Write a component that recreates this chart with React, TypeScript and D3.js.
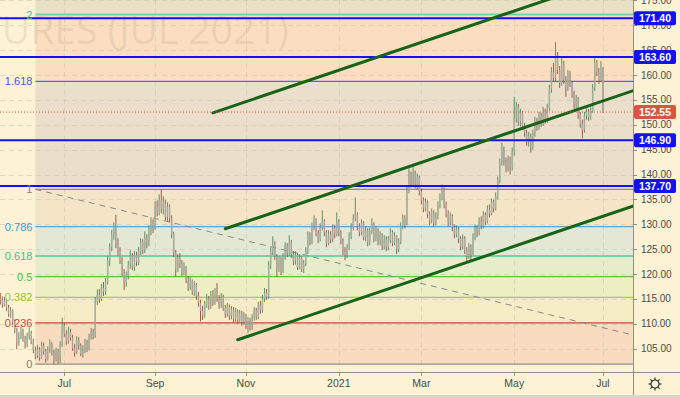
import * as d3 from 'd3'

// each session: [high, low, close]; open is taken as the previous close
type Bar = [number, number, number]

const firstDay = '2020-05-19'
const firstOpen = 115.0

const may2020: Bar[] = [
  [116.2, 113.9, 114.8], [115.5, 113.2, 113.9], [115.4, 113.5, 114.6], [115.0, 112.6, 113.2], [113.8, 111.4, 112.0],
  [113.4, 111.2, 112.6], [112.9, 109.8, 110.4], [110.9, 108.1, 108.8], [109.2, 104.9, 106.2],
]
const jun2020: Bar[] = [
  [108.3, 105.6, 107.5], [109.4, 106.9, 108.6], [109.0, 106.4, 107.0], [107.6, 105.0, 105.8], [108.2, 105.3, 107.4],
  [109.3, 106.8, 108.2], [108.6, 105.9, 106.5], [107.0, 104.1, 104.8], [105.4, 102.9, 103.6], [105.8, 103.1, 104.9],
  [105.3, 102.6, 103.2], [106.4, 102.9, 105.6], [106.2, 103.8, 104.4], [104.9, 102.2, 103.0], [105.5, 102.6, 104.8],
  [106.9, 104.2, 106.0], [106.3, 103.6, 104.2], [104.8, 101.9, 102.9], [105.2, 102.4, 104.5], [105.0, 102.0, 103.4],
  [106.5, 102.1, 105.8], [111.2, 105.4, 109.6],
]
const jul2020: Bar[] = [
  [110.2, 107.4, 108.0], [108.7, 105.8, 106.5], [109.4, 106.0, 108.3], [109.0, 106.6, 107.2], [107.8, 104.6, 105.1],
  [105.9, 103.4, 104.2], [107.5, 103.9, 106.8], [107.3, 104.8, 105.5], [106.1, 103.5, 104.0], [105.7, 103.2, 104.6],
  [107.0, 104.1, 106.2], [106.8, 104.3, 105.0], [108.0, 104.6, 107.3], [109.2, 106.8, 108.4], [109.0, 106.9, 107.6],
  [115.4, 107.2, 114.6], [116.9, 113.8, 115.8], [117.0, 114.2, 115.0], [118.0, 114.6, 117.2], [118.4, 115.6, 116.4],
  [119.2, 115.8, 118.3], [123.6, 117.9, 122.8], [126.2, 121.6, 125.4],
]
const aug2020: Bar[] = [
  [128.9, 124.6, 127.8], [130.4, 126.9, 129.6], [131.9, 125.2, 126.0], [127.2, 123.6, 124.5], [125.4, 122.0, 122.8],
  [123.4, 119.6, 120.2], [121.0, 116.8, 118.4], [120.5, 117.4, 119.6], [122.6, 118.9, 121.8], [124.8, 121.0, 123.7],
  [124.2, 120.8, 121.5], [124.6, 120.6, 123.8], [124.5, 121.6, 122.4], [125.4, 121.8, 124.6], [127.2, 123.8, 126.4],
  [127.0, 124.0, 124.8], [128.6, 124.2, 127.2], [128.0, 125.2, 126.0], [129.8, 125.6, 128.6], [131.4, 127.8, 130.2],
  [131.0, 128.2, 129.4],
]
const sep2020: Bar[] = [
  [134.6, 128.9, 133.6], [134.8, 131.6, 132.4], [136.0, 131.8, 134.8], [137.0, 132.2, 133.0], [135.6, 132.0, 134.2],
  [134.9, 130.8, 131.5], [134.4, 130.6, 133.6], [134.0, 130.4, 131.2], [131.8, 127.2, 128.0], [128.5, 123.4, 124.2],
  [124.8, 119.5, 121.0], [124.0, 120.4, 123.2], [124.2, 121.2, 122.0], [122.8, 119.6, 120.4], [122.4, 119.8, 121.2],
  [121.6, 118.2, 119.0], [119.6, 116.6, 117.4], [119.4, 116.8, 118.6], [118.9, 115.8, 116.5], [118.6, 115.6, 117.8],
  [118.2, 114.8, 115.6], [116.4, 113.4, 114.2],
]
const oct2020: Bar[] = [
  [114.8, 110.5, 112.6], [113.6, 110.8, 111.8], [114.6, 111.2, 113.9], [116.0, 113.2, 115.0], [115.6, 112.8, 113.6],
  [116.6, 113.0, 115.8], [116.8, 113.6, 114.4], [117.2, 113.8, 116.2], [118.2, 114.4, 115.0], [115.8, 113.0, 113.8],
  [116.2, 113.2, 115.4], [115.9, 112.6, 113.2], [113.8, 111.2, 112.0], [114.2, 111.4, 113.4], [113.9, 110.8, 111.6],
  [113.6, 110.9, 112.8], [113.4, 110.2, 111.0], [113.2, 110.4, 112.4], [112.9, 110.0, 110.8], [112.8, 110.2, 112.0],
  [112.6, 109.6, 110.4], [112.4, 109.8, 111.6],
]
const nov2020: Bar[] = [
  [112.0, 109.0, 109.8], [111.4, 108.2, 110.6], [111.2, 108.6, 109.4], [112.0, 108.8, 111.2], [113.4, 110.6, 112.6],
  [113.2, 110.8, 111.4], [114.4, 110.9, 113.6], [114.6, 112.0, 112.8], [115.8, 112.2, 115.0], [117.2, 114.4, 116.2],
  [117.0, 114.8, 115.4], [122.6, 115.0, 121.8], [125.4, 121.0, 124.6], [127.6, 123.8, 126.0], [126.6, 122.8, 123.6],
  [124.0, 119.4, 121.2], [123.6, 120.4, 122.8], [123.4, 119.8, 120.6], [124.2, 120.2, 123.4], [126.4, 122.8, 125.6],
  [126.2, 123.4, 124.2],
]
const dec2020: Bar[] = [
  [127.8, 123.6, 126.4], [126.8, 123.2, 124.0], [124.6, 121.8, 122.6], [124.6, 121.9, 123.8], [124.2, 120.8, 121.4],
  [124.0, 120.9, 123.2], [123.6, 120.4, 121.0], [122.8, 120.2, 122.0], [125.4, 121.6, 124.6], [128.6, 124.0, 127.8],
  [128.4, 125.8, 126.4], [130.4, 126.0, 129.6], [131.8, 128.8, 130.8], [131.2, 127.6, 128.2], [128.8, 126.2, 127.0],
  [130.2, 126.6, 129.4], [132.8, 128.8, 130.6], [131.0, 127.6, 128.4], [128.8, 125.4, 126.2], [128.8, 125.8, 128.0],
  [128.6, 126.2, 127.0], [130.0, 126.4, 129.2], [129.8, 127.2, 128.0],
]
const jan2021: Bar[] = [
  [132.4, 127.6, 130.6], [131.0, 127.6, 128.4], [128.8, 126.0, 126.8], [127.2, 123.8, 124.6], [125.4, 122.8, 123.8],
  [126.0, 123.2, 125.2], [128.4, 124.8, 127.6], [130.2, 127.0, 129.4], [132.0, 128.8, 131.2], [135.4, 130.6, 132.0],
  [132.4, 128.8, 129.6], [130.2, 127.6, 128.4], [131.0, 127.8, 130.2], [130.6, 126.8, 127.4], [129.6, 126.6, 128.8],
  [129.2, 125.6, 126.4], [129.4, 125.8, 128.6], [131.2, 128.0, 130.0], [130.4, 126.4, 127.2], [129.6, 126.6, 128.8],
  [129.2, 125.8, 126.6],
]
const feb2021: Bar[] = [
  [128.6, 125.8, 127.8], [128.2, 124.8, 125.6], [127.8, 124.9, 127.0], [127.6, 124.6, 125.4], [127.6, 124.8, 126.8],
  [129.2, 126.2, 128.4], [128.8, 125.6, 126.2], [128.4, 125.8, 127.6], [127.8, 124.0, 125.0], [127.2, 124.4, 126.4],
  [130.4, 126.0, 129.6], [132.0, 129.0, 131.2], [131.8, 129.2, 130.0], [137.6, 129.8, 136.8], [141.5, 136.2, 139.8],
  [140.6, 137.4, 138.2], [141.6, 137.6, 140.2], [140.8, 137.2, 138.0], [140.2, 137.0, 139.4], [139.8, 135.8, 136.6],
]
const mar2021: Bar[] = [
  [137.2, 134.0, 134.8], [135.4, 132.4, 133.2], [135.2, 132.6, 134.4], [134.8, 131.2, 132.0], [132.6, 129.8, 130.8],
  [133.2, 130.2, 132.4], [132.8, 129.6, 130.2], [132.4, 129.8, 131.6], [134.6, 131.0, 133.8], [136.2, 133.2, 135.4],
  [138.0, 134.8, 137.0], [137.4, 133.2, 134.0], [134.6, 131.4, 132.2], [132.8, 129.6, 130.4], [132.4, 129.8, 131.6],
  [132.0, 128.6, 129.4], [130.0, 127.2, 128.0], [129.8, 127.4, 129.0], [129.4, 126.2, 127.0], [127.6, 124.8, 125.6],
  [128.0, 125.0, 127.2], [127.6, 124.0, 124.8], [125.4, 122.6, 123.6],
]
const apr2021: Bar[] = [
  [126.2, 123.0, 125.4], [126.0, 122.8, 124.2], [128.2, 123.8, 127.4], [130.0, 126.8, 129.0], [129.8, 127.4, 128.2],
  [131.4, 127.8, 130.6], [131.6, 129.0, 129.8], [132.6, 129.2, 131.8], [132.4, 129.8, 130.6], [133.8, 130.2, 133.0],
  [134.0, 131.4, 132.2], [135.2, 131.8, 134.4], [135.0, 132.4, 133.2], [136.4, 132.8, 135.6], [139.6, 135.0, 138.8],
  [143.2, 138.2, 142.4], [146.4, 141.8, 144.8], [145.6, 141.8, 142.6], [143.4, 140.4, 141.2], [143.8, 140.6, 143.0],
  [143.6, 140.0, 141.4], [145.4, 140.8, 144.6],
]
const may2021: Bar[] = [
  [155.6, 143.8, 151.4], [154.6, 150.4, 153.6], [154.2, 149.8, 150.6], [153.2, 149.6, 152.4], [152.8, 149.0, 149.8],
  [150.4, 147.6, 148.4], [149.0, 145.8, 146.6], [148.6, 145.6, 147.8], [148.2, 144.4, 145.6], [149.0, 145.0, 148.2],
  [151.6, 147.6, 150.8], [151.4, 148.8, 149.6], [152.6, 149.0, 151.8], [152.4, 149.6, 150.4], [153.6, 149.8, 152.6],
  [153.2, 150.2, 151.0], [154.2, 150.4, 153.4], [158.0, 152.8, 157.2], [161.6, 156.4, 160.6], [162.4, 158.6, 159.4],
  [166.6, 158.8, 163.8],
]
const jun2021: Bar[] = [
  [164.6, 160.2, 161.0], [161.8, 157.4, 158.4], [163.6, 157.8, 162.2], [162.8, 158.2, 159.0], [159.8, 155.6, 157.6],
  [161.0, 156.8, 160.2], [160.8, 157.6, 158.4], [158.8, 155.4, 156.2], [156.8, 153.2, 154.0], [156.0, 153.0, 155.2],
  [155.6, 151.2, 152.0], [152.6, 149.4, 150.2], [151.0, 147.3, 149.0], [152.6, 148.4, 151.8], [153.6, 151.0, 152.6],
  [153.2, 150.8, 151.6], [153.6, 151.0, 152.8], [158.2, 152.4, 157.4], [163.4, 156.8, 162.4], [163.0, 159.8, 160.6],
  [161.4, 158.2, 159.0], [162.8, 158.6, 161.2],
]
const jul2021: Bar[] = [[161.6, 152.4, 152.55]]

const priceTicks = [105, 110, 115, 120, 125, 130, 135, 140, 145, 150, 155, 160, 165, 170, 175]
const dateTicks: [string, string][] = [
  ['2020-07-01', 'Jul'], ['2020-09-01', 'Sep'], ['2020-11-02', 'Nov'], ['2021-01-04', '2021'],
  ['2021-03-01', 'Mar'], ['2021-05-03', 'May'], ['2021-07-01', 'Jul'],
]

// fibonacci retracement
const fibStart = '2020-06-11'
const fibLow = 101.92
const fibHigh = 137.03
const fibLevels = [0, 0.236, 0.382, 0.5, 0.618, 0.786, 1, 1.618, 2, 2.618]
const fibTrend: [string, number][] = [['2020-06-11', 137.03], ['2021-07-22', 107.7]]

// horizontal levels and channel
const keyLevels = [171.4, 163.6, 146.9, 137.7]
const lastPrice = 152.55
const channel: [string, number, string, number][] = [
  ['2020-10-09', 152.4, '2021-07-22', 181.0],
  ['2020-10-19', 129.1, '2021-07-22', 156.9],
  ['2020-10-27', 106.8, '2021-07-22', 133.7],
]

const fibLineColors = ['#8f8f8f', '#c9473f', '#a6cb3a', '#5bc23c', '#72d4ae', '#58a6d6', '#8f8f8f', '#5663e3', '#72d4ae', '#8f8f8f']
const fibTextColors = ['#7d7d7d', '#d9443c', '#9cc236', '#4cbf36', '#3fbd93', '#3a9ad6', '#7d7d7d', '#4a55d8', '#3fbd93', '#7d7d7d']
const fibFills = ['#f9dcc0', '#f6ecc5', '#eeeec4', '#e8edc9', '#e3e7d3', '#f4e5c6', '#ebdfcb', '#fbdec0', '#e9e1c5']

const W = 680
const H = 397
const plotRight = 633
const plotBottom = 372
const font = '"Liberation Sans", Arial, sans-serif'

const t0 = Date.parse(firstDay + 'T00:00:00Z')
const barIndex = (date: string) => {
  const t1 = Date.parse(date + 'T00:00:00Z')
  let n = 0
  for (let t = t0; t < t1; t += 86400000) {
    const wd = new Date(t).getUTCDay()
    if (wd !== 0 && wd !== 6) n++
  }
  return n
}

const bars = [may2020, jun2020, jul2020, aug2020, sep2020, oct2020, nov2020, dec2020,
  jan2021, feb2021, mar2021, apr2021, may2021, jun2021, jul2021].flat()

const candles = bars.map(([high, low, close], i) => ({
  i, high, low, close, open: i === 0 ? firstOpen : bars[i - 1][2],
}))

export default function App() {
  const x = d3.scaleLinear().domain([0, bars.length - 1]).range([0.3, 603])
  const y = d3.scaleLinear().domain([105, 160]).range([348.7, 75])
  const xd = (d: string) => x(barIndex(d))
  const fx = xd(fibStart)
  const fibPrice = (r: number) => fibLow + r * (fibHigh - fibLow)
  const line = d3.line<[number, number]>().x(d => d[0]).y(d => d[1])

  return (
    <svg width={W} height={H} style={{ position: 'absolute', left: 0, top: 0, display: 'block' }} fontFamily={font}>
      <defs>
        <clipPath id="plot">
          <rect x={0} y={0} width={plotRight} height={plotBottom} />
        </clipPath>
      </defs>
      <rect width={W} height={H} fill="#fdf3d4" />

      <g clipPath="url(#plot)">
        {/* fib zones */}
        {fibLevels.slice(0, -1).map((r, k) => {
          const y0 = y(fibPrice(fibLevels[k + 1]))
          const y1 = y(fibPrice(r))
          return <rect key={k} x={fx} y={y0} width={plotRight - fx} height={y1 - y0} fill={fibFills[k]} />
        })}

        <text x={289} y={44} textAnchor="end" fontFamily='"Open Sans", sans-serif' fontSize={39}
          fill="#7a6a5a" fillOpacity={0.13}>COFFEE FUTURES (JUL 2021)</text>

        {/* grid */}
        {priceTicks.map(p => (
          <line key={p} x1={0} x2={plotRight} y1={Math.round(y(p)) + 0.5} y2={Math.round(y(p)) + 0.5}
            stroke="#c9c2b0" strokeOpacity={0.55} strokeDasharray="5,4" />
        ))}
        {dateTicks.map(([d]) => (
          <line key={d} x1={Math.round(xd(d)) + 0.5} x2={Math.round(xd(d)) + 0.5} y1={0} y2={plotBottom}
            stroke="#c9c2b0" strokeOpacity={0.55} strokeDasharray="5,4" />
        ))}

        {/* fib lines */}
        {fibLevels.map((r, k) => (
          <line key={r} x1={fx} x2={plotRight} y1={y(fibPrice(r))} y2={y(fibPrice(r))}
            stroke={fibLineColors[k]} strokeWidth={r === 0.618 || r === 2 ? 2 : 1.2} />
        ))}
        <path d={line(fibTrend.map(([d, p]) => [xd(d), y(p)]))!} stroke="#8a8a8a" strokeWidth={1}
          strokeDasharray="6,5" fill="none" />

        {/* candles */}
        {candles.map(c => {
          const up = c.close >= c.open
          const cx = x(c.i)
          const top = y(Math.max(c.open, c.close))
          const bot = y(Math.min(c.open, c.close))
          return (
            <g key={c.i}>
              <line x1={cx} x2={cx} y1={y(c.high)} y2={y(c.low)} stroke={up ? '#4a8a57' : '#984a42'} strokeWidth={0.9} />
              <rect x={cx - 0.75} y={top} width={1.5} height={Math.max(1, bot - top)} fill="#adafa6" fillOpacity={0.85} />
            </g>
          )
        })}

        {/* key levels */}
        {keyLevels.map(p => (
          <line key={p} x1={0} x2={plotRight} y1={y(p)} y2={y(p)} stroke="#1212f0" strokeWidth={2} />
        ))}

        {/* channel */}
        {channel.map(([d0, p0, d1, p1], k) => (
          <line key={k} x1={xd(d0)} y1={y(p0)} x2={xd(d1)} y2={y(p1)} stroke="#176317" strokeWidth={3}
            strokeLinecap="round" />
        ))}

        <line x1={0} x2={plotRight} y1={y(lastPrice)} y2={y(lastPrice)} stroke="#e4533f" strokeWidth={1}
          strokeDasharray="1,2" />
      </g>

      {/* fib labels */}
      {fibLevels.map((r, k) => (
        <text key={r} x={fx - 3} y={y(fibPrice(r))} textAnchor="end" dominantBaseline="central"
          fontSize={11} fill={fibTextColors[k]}>{String(r)}</text>
      ))}

      {/* axes */}
      <line x1={plotRight + 0.5} x2={plotRight + 0.5} y1={0} y2={H} stroke="#8e8e8e" />
      <line x1={0} x2={W} y1={plotBottom + 0.5} y2={plotBottom + 0.5} stroke="#8e8e8e" />
      {priceTicks.map(p => (
        <g key={p}>
          <line x1={plotRight} x2={plotRight + 4} y1={Math.round(y(p)) + 0.5} y2={Math.round(y(p)) + 0.5} stroke="#8e8e8e" />
          <text x={641} y={y(p)} dominantBaseline="central" fontSize={10} fill="#4a4a4a">{p.toFixed(2)}</text>
        </g>
      ))}
      {dateTicks.map(([d, label]) => (
        <g key={d}>
          <line x1={Math.round(xd(d)) + 0.5} x2={Math.round(xd(d)) + 0.5} y1={plotBottom} y2={plotBottom + 4} stroke="#8e8e8e" />
          <text x={xd(d)} y={387} textAnchor="middle" fontSize={10.5} fill="#4a4a4a">{label}</text>
        </g>
      ))}

      {keyLevels.map(p => (
        <g key={p}>
          <rect x={634} y={y(p) - 7} width={42} height={14} rx={2} fill="#1212f0" />
          <text x={655} y={y(p)} textAnchor="middle" dominantBaseline="central" fontSize={10.5}
            fontWeight="bold" fill="#fff">{p.toFixed(2)}</text>
        </g>
      ))}
      <rect x={634} y={y(lastPrice) - 7} width={42} height={14} rx={2} fill="#dc5341" />
      <text x={655} y={y(lastPrice)} textAnchor="middle" dominantBaseline="central" fontSize={10.5}
        fontWeight="bold" fill="#fff">{lastPrice.toFixed(2)}</text>

      {/* settings icon */}
      <g transform="translate(655,384)" stroke="#333" strokeWidth={1.2} fill="none">
        <circle r={4} />
        {d3.range(8).map(k => {
          const a = (k * Math.PI) / 4
          return <line key={k} x1={Math.cos(a) * 4} y1={Math.sin(a) * 4} x2={Math.cos(a) * 6.5} y2={Math.sin(a) * 6.5} />
        })}
      </g>
      <rect x={0} y={395} width={W} height={2} fill="#d9d6cc" />
    </svg>
  )
}
